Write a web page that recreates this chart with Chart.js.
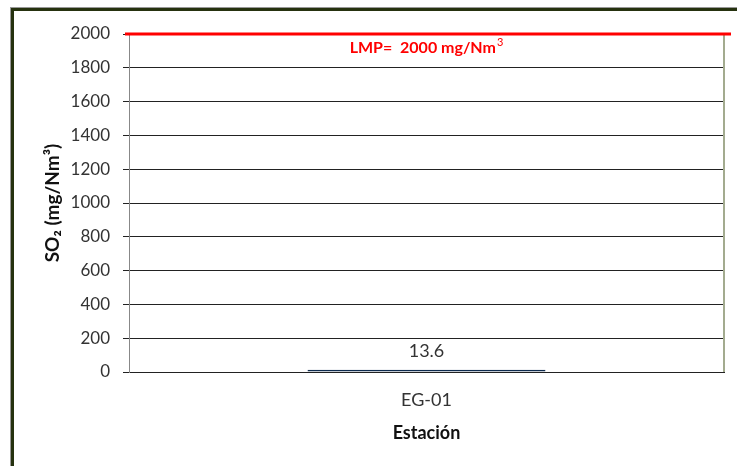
<!DOCTYPE html>
<html>
<head>
<meta charset="utf-8">
<script src="https://cdn.jsdelivr.net/npm/chart.js@4/dist/chart.umd.min.js"></script>
<style>
  html, body { margin: 0; padding: 0; background: #fff; overflow: hidden; }
  #frame {
    position: absolute; left: 11px; top: 8px; width: 800px; height: 500px;
    border: 3px solid #26320f; box-shadow: -1px -1px 0 #999;
  }
  #wrap { position: absolute; left: 0; top: 0; width: 737px; height: 466px; }
</style>
</head>
<body>
<div id="frame"></div>
<div id="wrap"><canvas id="chart" width="737" height="466"></canvas></div>
<script>
"use strict"

// data
const stations = ['EG-01'];
const so2Values = [13.6];
const limitValue = 2000;
const limitLabel = 'LMP=  2000 mg/Nm';
const limitLabelSup = '3';
const yTicks = [0, 200, 400, 600, 800, 1000, 1200, 1400, 1600, 1800, 2000];

const FONT = 'Lato, "Open Sans", sans-serif';

// LMP line, data label and the plot area's right edge
const extrasPlugin = {
  id: 'extras',
  afterDatasetsDraw(chart) {
    let ctx = chart.ctx;
    let area = chart.chartArea;
    let y = chart.scales.y.getPixelForValue(limitValue);

    ctx.save();
    ctx.strokeStyle = '#a3ab8f';
    ctx.lineWidth = 2;
    ctx.beginPath();
    ctx.moveTo(area.right, y);
    ctx.lineTo(area.right, area.bottom);
    ctx.stroke();

    ctx.strokeStyle = '#ff0000';
    ctx.lineWidth = 3;
    ctx.beginPath();
    ctx.moveTo(area.left - 4, y);
    ctx.lineTo(area.right + 7, y);
    ctx.stroke();

    // label with a real superscript
    ctx.fillStyle = '#ff0000';
    ctx.textBaseline = 'alphabetic';
    ctx.textAlign = 'left';
    ctx.font = 'bold 16px ' + FONT;
    let w1 = ctx.measureText(limitLabel).width;
    ctx.font = '11px ' + FONT;
    let w2 = ctx.measureText(limitLabelSup).width;
    let x0 = (area.left + area.right) / 2 - (w1 + w2 + 1) / 2;
    ctx.font = 'bold 16px ' + FONT;
    ctx.fillText(limitLabel, x0, y + 19);
    ctx.font = '11px ' + FONT;
    ctx.fillText(limitLabelSup, x0 + w1 + 1, y + 12);

    let meta = chart.getDatasetMeta(0);
    ctx.fillStyle = '#333';
    ctx.font = '18px ' + FONT;
    ctx.textAlign = 'center';
    ctx.textBaseline = 'bottom';
    meta.data.forEach((bar, i) => {
      ctx.fillText(String(so2Values[i]), bar.x, bar.y - 10);
    });
    ctx.restore();
  }
};

let ctx = document.getElementById('chart').getContext('2d');
let chart = new Chart(ctx, {
  type: 'bar',
  data: {
    labels: stations,
    datasets: [{
      data: so2Values,
      backgroundColor: '#1f6fc4',
      borderColor: '#0d2a4d',
      borderWidth: 1,
      borderSkipped: false,
      barPercentage: 0.4,
      categoryPercentage: 1
    }]
  },
  options: {
    responsive: false,
    animation: false,
    layout: { padding: { left: 41, right: 13, top: 34, bottom: 22 } },
    plugins: {
      legend: { display: false },
      tooltip: { enabled: false }
    },
    scales: {
      x: {
        grid: { display: false },
        border: { color: '#222', width: 1 },
        ticks: { color: '#333', font: { family: FONT, size: 18 }, padding: 9 },
        title: {
          display: true, text: 'Estación', color: '#111',
          font: { family: FONT, size: 18, weight: 'bold' }, padding: { top: 4, bottom: 0 }
        },
        afterFit(scale) { scale.height = 72; }
      },
      y: {
        min: 0,
        max: 2000,
        afterBuildTicks(scale) { scale.ticks = yTicks.map(v => ({ value: v })); },
        grid: { color: '#222', lineWidth: 1, tickLength: 6 },
        border: { color: '#888', width: 1 },
        ticks: {
          color: '#333', font: { family: FONT, size: 17 }, padding: 13,
          callback: v => String(v)
        },
        title: {
          display: true, text: 'SO₂ (mg/Nm³)', color: '#111',
          font: { family: FONT, size: 19, weight: 'bold' }, padding: 0
        },
        afterFit(scale) { scale.width = 88; }
      }
    }
  },
  plugins: [extrasPlugin]
});
</script>
</body>
</html>
